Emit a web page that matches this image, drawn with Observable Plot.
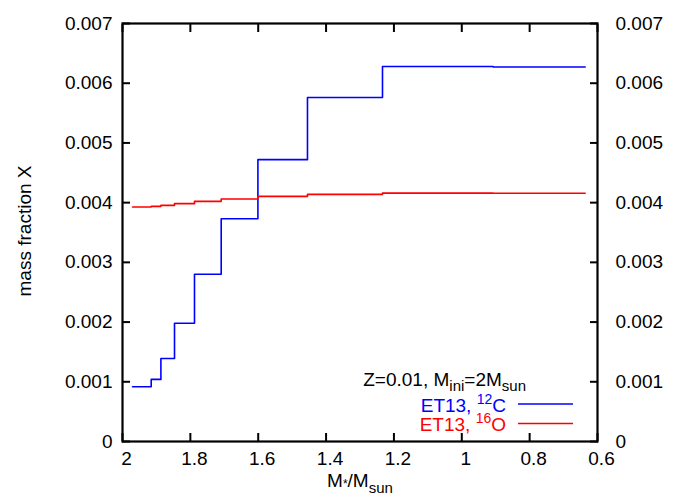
<!DOCTYPE html>
<html>
<head>
<meta charset="utf-8">
<script src="https://cdn.jsdelivr.net/npm/d3@7"></script>
<script src="https://cdn.jsdelivr.net/npm/@observablehq/plot@0.6"></script>
<style>
  html, body { margin: 0; padding: 0; background: #fff; }
  #chart svg { display: block; }
</style>
</head>
<body>
<div id="chart"></div>
<script>
// Step boundaries in mass coordinate (M*/Msun), ordered from the surface inwards
const massSteps = [1.9705, 1.9154, 1.8868, 1.8467, 1.7878, 1.7091, 1.6009, 1.4548, 1.2337, 0.9075, 0.6363];
// 12C mass fraction (ET13)
const carbon12 = [0.000916, 0.00104, 0.00139, 0.00198, 0.00280, 0.00373, 0.00472, 0.00576, 0.00628, 0.006271, 0.006271];
// 16O mass fraction (ET13)
const oxygen16 = [0.003926, 0.003938, 0.003955, 0.003983, 0.004022, 0.00406, 0.004105, 0.004139, 0.00416, 0.004158, 0.004158];
const xTicks = [2, 1.8, 1.6, 1.4, 1.2, 1, 0.8, 0.6];
const yTicks = [0, 0.001, 0.002, 0.003, 0.004, 0.005, 0.006, 0.007];

const rowsC = massSteps.map((m, i) => ({m, v: carbon12[i]}));
const rowsO = massSteps.map((m, i) => ({m, v: oxygen16[i]}));

const FONT = "'Liberation Sans', Arial, Helvetica, sans-serif";
const FS = 19;
const fmt = d => String(d);
const blank = () => "";

const chart = Plot.plot({
  width: 700,
  height: 500,
  marginLeft: 122,
  marginRight: 103,
  marginTop: 23,
  marginBottom: 59,
  style: {fontFamily: FONT, fontSize: FS + "px", color: "black", background: "white", overflow: "visible"},
  x: {domain: [2, 0.6]},
  y: {domain: [0, 0.007]},
  marks: [
    Plot.line(rowsC, {x: "m", y: "v", curve: "step-after", stroke: "#0000ff", strokeWidth: 1.6}),
    Plot.line(rowsO, {x: "m", y: "v", curve: "step-after", stroke: "#ff0000", strokeWidth: 1.6}),
    Plot.frame({stroke: "black", strokeWidth: 2.2}),
    // inward ticks on all four sides
    Plot.axisX(xTicks, {anchor: "bottom", tickSize: -8, strokeWidth: 2, tickFormat: blank, label: null}),
    Plot.axisX(xTicks, {anchor: "top", tickSize: -8, strokeWidth: 2, tickFormat: blank, label: null}),
    Plot.axisY(yTicks, {anchor: "left", tickSize: -8, strokeWidth: 2, tickFormat: blank, label: null}),
    Plot.axisY(yTicks, {anchor: "right", tickSize: -8, strokeWidth: 2, tickFormat: blank, label: null}),
    // tick labels
    Plot.axisX(xTicks, {anchor: "bottom", tickSize: 0, tickPadding: 10, dx: 4, tickFormat: fmt, label: null, fontSize: FS}),
    Plot.axisY(yTicks, {anchor: "left", tickSize: 0, tickPadding: 10, tickFormat: fmt, label: null, fontSize: FS}),
    Plot.axisY(yTicks, {anchor: "right", tickSize: 0, tickPadding: 18, tickFormat: fmt, label: null, fontSize: FS})
  ]
});

document.getElementById("chart").appendChild(chart);

const svg = d3.select(chart);
const g = svg.append("g").attr("font-family", FONT).attr("font-size", FS);

// y-axis label
g.append("text")
  .attr("transform", "translate(31,231) rotate(-90)")
  .attr("text-anchor", "middle")
  .text("mass fraction X");

// x-axis label
const xl = g.append("text").attr("x", 360).attr("y", 487).attr("text-anchor", "middle");
xl.append("tspan").text("M");
xl.append("tspan").attr("font-size", 12).attr("dy", 1).text("*");
xl.append("tspan").attr("dy", -1).text("/M");
xl.append("tspan").attr("font-size", 15).attr("dy", 6).text("sun");

// legend
const t1 = g.append("text").attr("x", 526).attr("y", 386).attr("text-anchor", "end");
t1.append("tspan").text("Z=0.01, M");
t1.append("tspan").attr("font-size", 15).attr("dy", 5).text("ini");
t1.append("tspan").attr("dy", -5).text("=2M");
t1.append("tspan").attr("font-size", 15).attr("dy", 5).text("sun");

const t2 = g.append("text").attr("x", 506).attr("y", 412).attr("text-anchor", "end").attr("fill", "#0000ff");
t2.append("tspan").text("ET13, ");
t2.append("tspan").attr("font-size", 14).attr("dy", -8).text("12");
t2.append("tspan").attr("dy", 8).text("C");

const t3 = g.append("text").attr("x", 506).attr("y", 431).attr("text-anchor", "end").attr("fill", "#ff0000");
t3.append("tspan").text("ET13, ");
t3.append("tspan").attr("font-size", 14).attr("dy", -8).text("16");
t3.append("tspan").attr("dy", 8).text("O");

g.append("line").attr("x1", 518).attr("x2", 573).attr("y1", 404).attr("y2", 404).attr("stroke", "#0000ff").attr("stroke-width", 1.6);
g.append("line").attr("x1", 518).attr("x2", 573).attr("y1", 423.5).attr("y2", 423.5).attr("stroke", "#ff0000").attr("stroke-width", 1.6);
</script>
</body>
</html>
